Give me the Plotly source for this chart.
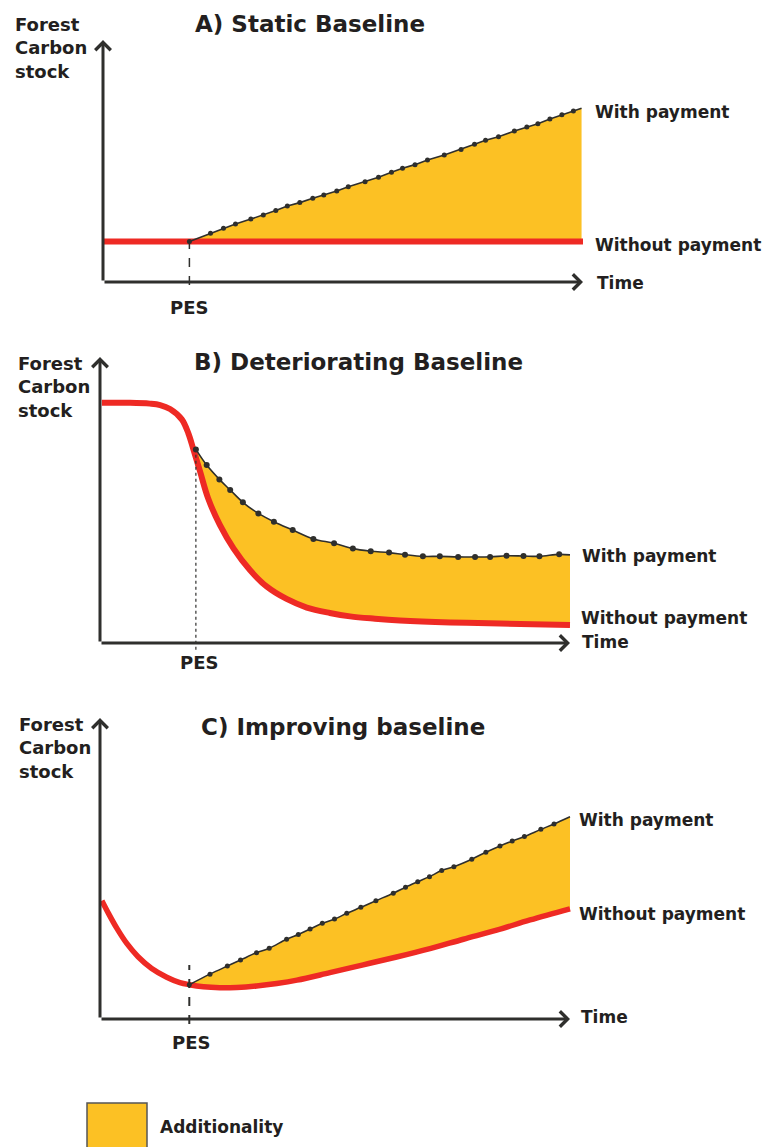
import plotly.graph_objects as go

# page is shifted by the 8px default body margin; geometry below is in page pixels
OFF = 8
W, H = 781 - OFF, 1147 - OFF

# ---------------- data (time units 0-100, stock units 0-100) ----------------
# Panel A - static baseline
a_pes = 18.0
a_without_x = [0, 100]
a_without_y = [16.7, 16.7]
a_with_x = [18.0, 22.4, 25.1, 27.6, 30.8, 33.4, 36.0, 38.4, 41.0, 43.7, 46.0, 48.7,
            51.1, 54.6, 57.4, 60.1, 62.4, 65.0, 67.6, 71.1, 74.6, 77.4, 79.7, 82.4,
            85.7, 88.3, 90.6, 93.1, 95.6, 98.0, 99.7]
a_with_y = [16.7, 20.1, 22.2, 24.0, 26.0, 27.7, 29.5, 31.4, 32.8, 34.6, 36.0, 37.6,
            39.4, 41.4, 43.3, 45.3, 47.0, 48.5, 50.4, 52.5, 54.8, 56.9, 58.6, 60.0,
            62.4, 64.0, 65.4, 67.4, 69.1, 70.7, 71.8]

# Panel B - deteriorating baseline
b_pes = 20.4
b_without_x = [0.4, 6.4, 10.6, 12.8, 14.9, 17.4, 18.8, 19.9, 21.3, 23.0, 25.5, 28.4,
               31.9, 35.5, 39.7, 44.0, 48.9, 53.2, 58.5, 63.8, 74.5, 85.1, 100]
b_without_y = [84.0, 84.0, 83.7, 83.2, 81.8, 78.2, 73.3, 67.5, 59.9, 50.6, 41.3, 33.1,
               25.5, 19.7, 15.4, 12.4, 10.5, 9.3, 8.5, 7.9, 7.2, 6.8, 6.3]
b_with_x = [20.4, 22.7, 25.4, 27.7, 30.4, 33.7, 37.0, 41.0, 45.4, 49.8, 53.8, 57.6,
            61.5, 64.9, 68.7, 72.3, 76.2, 79.8, 83.0, 86.5, 90.1, 93.5, 97.7, 100]
b_with_y = [67.7, 62.2, 57.2, 53.5, 49.2, 45.3, 42.4, 39.5, 36.4, 34.9, 33.0, 32.1,
            31.6, 30.9, 30.3, 30.3, 30.1, 30.1, 30.1, 30.5, 30.4, 30.3, 31.0, 30.8]

# Panel C - improving baseline
c_pes = 19.0
c_without_x = [0.4, 1.8, 3.6, 5.7, 8.1, 11.0, 14.2, 17.0, 19.0, 22.0, 25.5, 29.1,
               33.3, 37.6, 41.9, 48.9, 56.0, 63.1, 70.2, 77.3, 84.4, 91.5, 100]
c_without_y = [39.3, 35.1, 30.1, 25.1, 20.7, 16.8, 13.9, 12.1, 11.4, 10.7, 10.4, 10.5,
               11.0, 11.8, 12.9, 15.4, 18.0, 20.6, 23.4, 26.5, 29.5, 32.9, 36.6]
c_with_x = [19.0, 23.4, 27.1, 29.9, 33.3, 36.0, 39.7, 42.2, 44.7, 47.3, 49.9, 52.5,
            55.5, 58.7, 62.4, 65.0, 67.6, 70.1, 72.7, 75.3, 79.1, 82.1, 85.1, 87.7,
            90.3, 93.8, 96.6, 100]
c_with_y = [11.4, 14.9, 17.6, 19.6, 22.0, 23.5, 26.5, 28.1, 29.9, 31.8, 33.2, 35.1,
            37.1, 39.3, 41.8, 43.8, 45.6, 47.3, 49.3, 50.6, 53.1, 55.4, 57.5, 59.1,
            60.6, 63.0, 64.8, 67.2]

titles = ["A) Static Baseline", "B) Deteriorating Baseline", "C) Improving baseline"]
y_label = "Forest<br>Carbon<br>stock"
x_label = "Time"
with_label = "With payment"
without_label = "Without payment"
pes_label = "PES"
legend_label = "Additionality"

# ---------------- style ----------------
YELLOW = "#fcc124"
RED = "#ee2a24"
DARK = "#2f2f2d"
TXT = "#231f20"
FONT = "DejaVu Sans"

# panel pixel geometry: x of value 0, x of value 100, y of value 0, y of value 100
geo = [(103, 583, 282, 40), (100, 570, 643, 357), (100, 570, 1019, 718)]
PAD = 5


def px_x(px):
    return (px - OFF) / W


def px_y(py):
    return 1 - (py - OFF) / H


fig = go.Figure()
layout = dict(width=W, height=H, margin=dict(l=0, r=0, t=0, b=0),
              paper_bgcolor="white", plot_bgcolor="rgba(0,0,0,0)",
              showlegend=False)

for i, (x0, x1, y0, y1) in enumerate(geo):
    sx = (x1 - x0) / 100.0
    sy = (y0 - y1) / 100.0
    sfx = "" if i == 0 else str(i + 1)
    layout["xaxis" + sfx] = dict(domain=[px_x(x0 - PAD * sx), px_x(x1 + PAD * sx)],
                                 range=[-PAD, 100 + PAD], visible=False,
                                 fixedrange=True, anchor="y" + sfx)
    layout["yaxis" + sfx] = dict(domain=[px_y(y0 + PAD * sy), px_y(y1 - PAD * sy)],
                                 range=[-PAD, 100 + PAD], visible=False,
                                 fixedrange=True, anchor="x" + sfx)
fig.update_layout(**layout)

panels = [
    (a_pes, a_without_x, a_without_y, a_with_x, a_with_y, "linear", 6, 5, "dash", 1.5),
    (b_pes, b_without_x, b_without_y, b_with_x, b_with_y, "spline", 6, 6, "dot", 1.2),
    (c_pes, c_without_x, c_without_y, c_with_x, c_with_y, "spline", 5.5, 5, "dash", 2),
]

annotations = []
shapes = []
dash_extent = [(-1.2, 0), (-2.4, 0), (-1.7, 6.5)]

for i, (pes, wox, woy, wx, wy, shp, rw, ms, dstyle, dwidth) in enumerate(panels):
    sfx = "" if i == 0 else str(i + 1)
    xa, ya = "x" + sfx, "y" + sfx
    # baseline part after PES (used as fill base)
    if i == 0:
        base_x = [pes, wx[-1]]
        base_y = [woy[0], woy[0]]
    else:
        base_x = [x for x in wox if x >= pes]
        base_y = [y for x, y in zip(wox, woy) if x >= pes]
    fig.add_trace(go.Scatter(x=base_x, y=base_y, mode="lines", line=dict(width=0, shape=shp),
                             hoverinfo="skip", xaxis=xa, yaxis=ya))
    fig.add_trace(go.Scatter(x=wx, y=wy, mode="lines", line=dict(width=0, shape=shp),
                             fill="tonexty", fillcolor=YELLOW, hoverinfo="skip",
                             xaxis=xa, yaxis=ya))
    # PES marker line
    lo, up = dash_extent[i]
    shapes.append(dict(type="line", xref=xa, yref=ya, x0=pes, x1=pes, y0=lo, y1=wy[0] + up,
                       line=dict(color=DARK, width=dwidth, dash=dstyle)))
    # without payment
    fig.add_trace(go.Scatter(x=wox, y=woy, mode="lines",
                             line=dict(color=RED, width=rw, shape=shp),
                             hoverinfo="skip", xaxis=xa, yaxis=ya))
    # with payment
    fig.add_trace(go.Scatter(x=wx, y=wy, mode="lines",
                             line=dict(color=DARK, width=1.6, shape=shp),
                             hoverinfo="skip", xaxis=xa, yaxis=ya))
    fig.add_trace(go.Scatter(x=wx[:-1], y=wy[:-1], mode="markers",
                             marker=dict(color=DARK, size=ms),
                             hoverinfo="skip", xaxis=xa, yaxis=ya))
    # axes with arrows
    for (tx, ty) in [(100, 0), (0, 100)]:
        annotations.append(dict(x=tx, y=ty, ax=0, ay=0, xref=xa, yref=ya,
                                axref=xa, ayref=ya, text="", showarrow=True,
                                arrowhead=4, arrowsize=1, arrowwidth=3,
                                arrowcolor=DARK, standoff=0))


def label(text, px, py, size=17, xanchor="left", yanchor="middle", align="left"):
    annotations.append(dict(text=text, x=px_x(px), y=px_y(py), xref="paper", yref="paper",
                            xanchor=xanchor, yanchor=yanchor, align=align, showarrow=False,
                            font=dict(family=FONT, size=size, color=TXT, weight="bold")))


# titles
label(titles[0], 310, 24, size=23, xanchor="center")
label(titles[1], 358, 362, size=23, xanchor="center")
label(titles[2], 343, 727, size=23, xanchor="center")
# y labels
label(y_label, 13, 12, size=18, yanchor="top")
label(y_label, 16, 351, size=18, yanchor="top")
label(y_label, 17, 712, size=18, yanchor="top")
# right-hand labels
label(with_label, 593, 112)
label(without_label, 593, 245)
label(x_label, 595, 283)
label(with_label, 580, 556)
label(without_label, 579, 618)
label(x_label, 580, 642)
label(with_label, 577, 820)
label(without_label, 577, 914)
label(x_label, 579, 1017)
# PES labels
label(pes_label, 189, 307, size=18, xanchor="center")
label(pes_label, 199, 662, size=18, xanchor="center")
label(pes_label, 191, 1042, size=18, xanchor="center")

# legend
shapes.append(dict(type="rect", xref="paper", yref="paper",
                   x0=px_x(87), x1=px_x(147), y0=px_y(1152), y1=px_y(1103),
                   fillcolor=YELLOW, line=dict(color="#555555", width=1.5)))
label(legend_label, 158, 1127)

fig.update_layout(annotations=annotations, shapes=shapes)
fig.write_html("out.html")
